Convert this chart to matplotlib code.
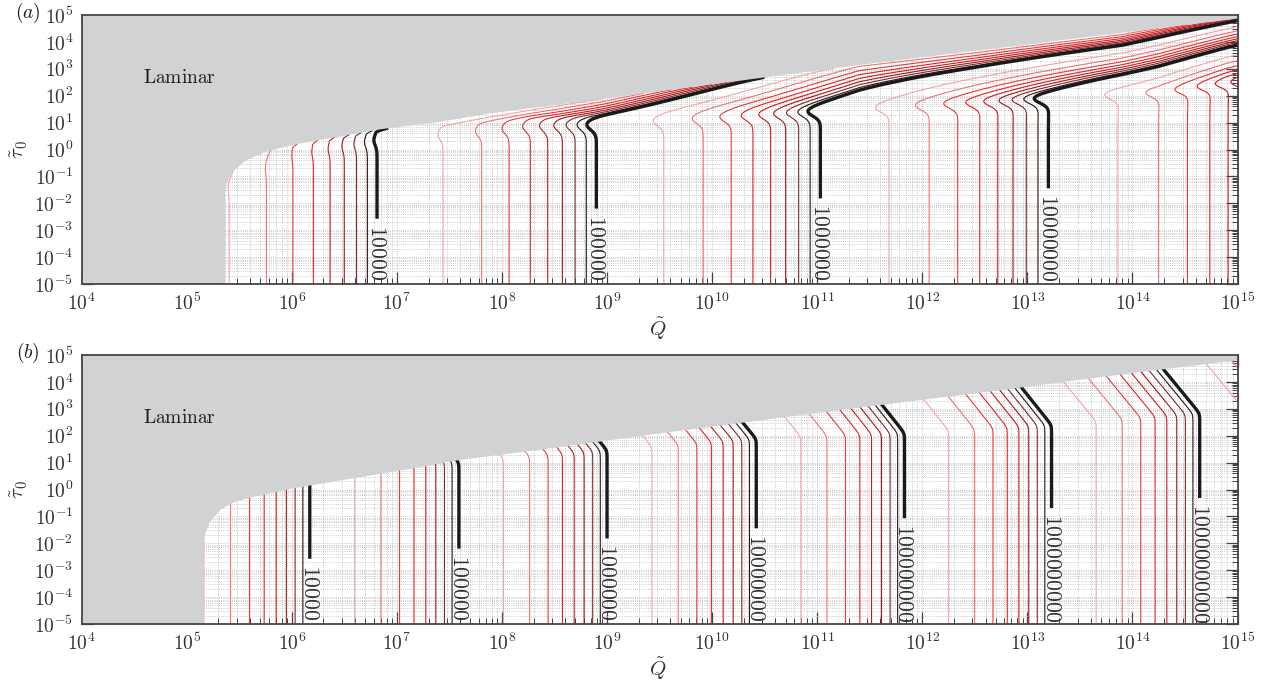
import numpy as np
import matplotlib
matplotlib.use("Agg")
import matplotlib.pyplot as plt
from matplotlib.ticker import FixedLocator, FuncFormatter, NullFormatter

plt.rcParams['mathtext.fontset'] = 'cm'
plt.rcParams['font.family'] = ['DejaVu Serif']

# ------------------------------------------------------------------ data
# contour levels: log10(Re) = log10(m * 10**k)
decade_exps = [3, 4, 5, 6, 7, 8, 9, 10]
multipliers = [2, 3, 4, 5, 6, 7, 8, 9]
mult_colors = ['#f5a3a3', '#f07272', '#e63a3a', '#e02424',
               '#c81c1c', '#a51616', '#7d2b2b', '#2e1212']
labelled_a = [4, 5, 6, 7]                 # log10 of labelled levels, panel (a)
labelled_b = [4, 5, 6, 7, 8, 9, 10]       # panel (b)

# panel (a): log10(Q) where each level meets the bottom axis
a_level = [3.301, 4.0, 5.0, 6.0, 7.0, 7.778]
a_logq = [5.404, 6.811, 8.898, 11.03, 13.2, 14.91]
# laminar boundary (log10 Q, log10 tau0)
a_bnd_q = [5.37, 5.37, 5.38, 5.41, 5.47, 5.57, 5.76, 6.01, 6.36, 6.84, 7.41,
           7.9, 9.0, 10.67, 11.4, 14.76, 15.1]
a_bnd_t = [-5.2, -1.6, -1.25, -1.01, -0.7, -0.39, -0.07, 0.17, 0.42, 0.75, 1.03,
           1.35, 1.9, 2.77, 3.14, 4.75, 4.92]
# height where contours turn towards the boundary
a_turn_q = [5.0, 6.0, 6.8, 7.41, 8.26, 8.9, 10.93, 13.05, 14.25, 14.9, 15.2]
a_turn_t = [-2.0, 0.05, 0.64, 0.85, 1.16, 1.22, 1.72, 2.21, 2.47, 2.84, 2.9]
# steepness of the level change above the turn
a_steep_q = [5.0, 6.8, 7.2, 7.5, 8.0, 9.0, 9.7, 11.4, 12.5, 13.9, 15.2]
a_steep = [0.01, 0.02, 0.08, 0.2, 0.38, 0.55, 0.55, 0.57, 1.0, 1.5, 1.5]
# size of the small leftward swing before the turn
a_swing_q = [6.0, 6.8, 8.9, 11.0, 13.2, 15.2]
a_swing = [0.005, 0.015, 0.045, 0.06, 0.08, 0.08]

# panel (b)
b_level = [3.301, 4.0, 5.0, 6.0, 7.0, 8.0, 9.0, 10.0]
b_logq = [5.163, 6.171, 7.59, 9.0, 10.42, 11.83, 13.23, 14.64]
b_bnd_q = [5.16, 5.16, 5.18, 5.22, 5.32, 5.44, 5.6, 5.76, 6.01, 6.39, 6.87, 7.6,
           8.46, 9.41, 11.25, 12.96, 14.0, 14.89, 15.1]
b_bnd_t = [-5.2, -1.9, -1.6, -1.2, -0.76, -0.49, -0.3, -0.17, 0.04, 0.29, 0.60, 1.10,
           1.53, 2.04, 2.97, 3.80, 4.33, 4.75, 4.85]
b_kink_q = [5.0, 7.0, 7.6, 9.0, 10.43, 11.85, 13.26, 14.65, 15.2]
b_kink_t = [0.5, 1.0, 1.0, 1.45, 1.88, 2.1, 2.4, 2.83, 3.0]
b_slant = 0.14

GRAY = '#d1d2d4'


def lin_extrap(x, xp, fp):
    xp = np.asarray(xp, float)
    fp = np.asarray(fp, float)
    y = np.interp(x, xp, fp)
    y = np.where(x < xp[0], fp[0] + (x - xp[0]) * (fp[1] - fp[0]) / (xp[1] - xp[0]), y)
    y = np.where(x > xp[-1], fp[-1] + (x - xp[-1]) * (fp[-1] - fp[-2]) / (xp[-1] - xp[-2]), y)
    return y


U, V = np.meshgrid(np.linspace(3.95, 15.15, 1500), np.linspace(-5.15, 5.15, 1000))


def field_a():
    F1 = lin_extrap(U, a_logq, a_level)
    vb = np.interp(U, a_bnd_q[1:], a_bnd_t[1:], left=-8)
    vt = np.interp(U, a_turn_q, a_turn_t)
    sst = np.maximum(vb - vt, 0.08)
    s = np.maximum(vb - V, 1e-4)
    z = np.log(sst / s)
    kz = 0.09
    zs = kz * np.logaddexp(0, z / kz)
    c = np.interp(U, a_steep_q, a_steep)
    q = 0.75
    D = -c * (1 - np.exp(-q * zs)) / q
    a = np.interp(U, a_swing_q, a_swing)
    B = a * np.exp(-((V - (vt - 0.28)) / 0.28) ** 2)
    return F1 + D + B


def field_b():
    F1 = lin_extrap(U, b_logq, b_level)
    vk = np.interp(U, b_kink_q, b_kink_t)
    k = 0.06
    return F1 + b_slant * k * np.logaddexp(0, (V - vk) / k)


def thin_levels(maxlev):
    lev, col = [], []
    for k in decade_exps:
        for m, cc in zip(multipliers, mult_colors):
            L = np.log10(m * 10.0 ** k)
            if L <= maxlev:
                lev.append(L)
                col.append(cc)
    return lev, col


fig = plt.figure(figsize=(12.72, 6.88), dpi=100)
ax_a = fig.add_axes([0.0642, 0.5872, 0.9087, 0.391])
ax_b = fig.add_axes([0.0642, 0.0930, 0.9087, 0.391])

X = 10.0 ** U
Y = 10.0 ** V


def style(ax):
    ax.set_xscale('log')
    ax.set_yscale('log')
    ax.set_xlim(1e4, 1e15)
    ax.set_ylim(1e-5, 1e5)
    ax.set_facecolor('white')
    ax.set_axisbelow(True)
    ax.xaxis.set_major_locator(FixedLocator(10.0 ** np.arange(4, 16)))
    ax.yaxis.set_major_locator(FixedLocator(10.0 ** np.arange(-5, 6)))
    ax.xaxis.set_minor_locator(FixedLocator([m * 10.0 ** k for k in range(4, 15) for m in range(2, 10)]))
    ax.yaxis.set_minor_locator(FixedLocator([m * 10.0 ** k for k in range(-5, 5) for m in range(2, 10)]))
    fmt = FuncFormatter(lambda x, p: r'$10^{%d}$' % int(round(np.log10(x))))
    ax.xaxis.set_major_formatter(fmt)
    ax.yaxis.set_major_formatter(fmt)
    ax.xaxis.set_minor_formatter(NullFormatter())
    ax.yaxis.set_minor_formatter(NullFormatter())
    ax.grid(True, which='both', linestyle=(0, (1, 1.6)), color='#bcbcbc', linewidth=0.6)
    ax.tick_params(which='both', direction='in', top=True, right=True,
                   color='#404040', labelcolor='#333333', labelsize=14)
    ax.tick_params(which='major', length=8.5, width=0.9, pad=6)
    ax.tick_params(which='minor', length=4, width=0.7)
    for sp in ax.spines.values():
        sp.set_color('#454545')
        sp.set_linewidth(1.3)
    ax.set_xlabel(r'$\tilde{Q}$', fontsize=15, color='#333333')
    ax.set_ylabel(r'$\tilde{\tau}_0$', fontsize=15, color='#333333')
    ax.xaxis.set_label_coords(0.4987, -0.118)
    ax.yaxis.set_label_coords(-0.045, 0.5)
    ax.text(10 ** 4.93, 10 ** 2.67, r'$\mathrm{Laminar}$', fontsize=14,
            ha='center', va='center', color='#1a1a1a', zorder=4)


def draw(ax, F, bnd_q, bnd_t, labelled, lab_q, lab_lev, maxlev, tag):
    style(ax)
    lev, col = thin_levels(maxlev)
    ax.contour(X, Y, F, levels=lev, colors=col, linewidths=0.8, zorder=1.5)
    cs = ax.contour(X, Y, F, levels=labelled, colors='#1a1a1a', linewidths=2.4, zorder=1.6)
    px = list(bnd_q) + [15.3, 3.8, 3.8, bnd_q[0]]
    py = list(bnd_t) + [5.3, 5.3, -5.3, -5.3]
    ax.fill(10.0 ** np.array(px), 10.0 ** np.array(py), color=GRAY, lw=0, zorder=2.2)
    manual = []
    for L in labelled:
        uq = float(lin_extrap(np.array([L]), lab_lev, lab_q)[0])
        n = int(L) + 1
        vc = -5 + (8 + 4.75 * n) / 26.9
        manual.append((10 ** uq, 10 ** vc))
    texts = ax.clabel(cs, levels=labelled, manual=manual, inline=True, inline_spacing=6,
                      fmt=lambda l: r'$%d$' % int(round(10 ** l)), fontsize=15.5,
                      colors='#333333')
    for t in texts:
        t.set_rotation(270)
    ax.text(-0.047, 1.008, r'$(%s)$' % tag, transform=ax.transAxes, fontsize=14,
            ha='center', va='center', color='#1a1a1a')


draw(ax_a, field_a(), a_bnd_q, a_bnd_t, labelled_a, a_logq, a_level, 7.9, 'a')
draw(ax_b, field_b(), b_bnd_q, b_bnd_t, labelled_b, b_logq, b_level, 10.5, 'b')

fig.savefig('out.png', dpi=100)
